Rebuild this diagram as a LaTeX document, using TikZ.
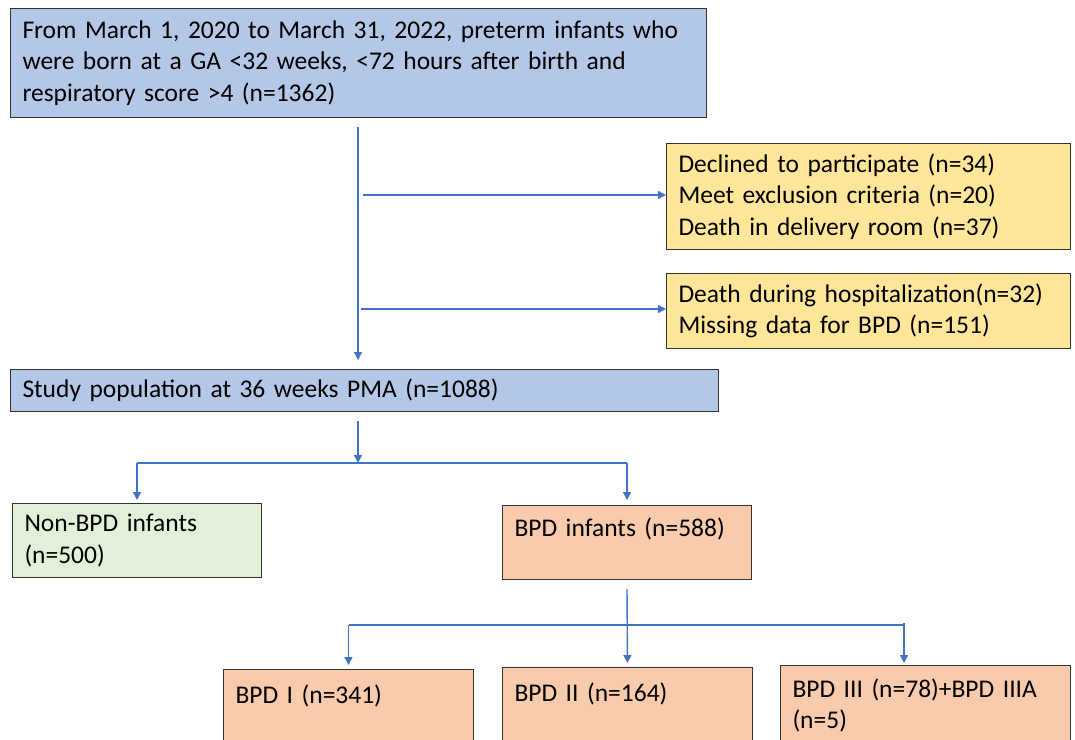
\documentclass[tikz,border=0pt]{standalone}
\usepackage{fontspec}
\setmainfont{Carlito}
\usetikzlibrary{arrows.meta,positioning}
\definecolor{fillblue}{HTML}{B4C7E7}
\definecolor{fillyellow}{HTML}{FFE699}
\definecolor{fillgreen}{HTML}{E2F0D9}
\definecolor{fillorange}{HTML}{F8CBAD}
\definecolor{linkblue}{HTML}{4472C4}
\begin{document}
\begin{tikzpicture}[
    x=1pt, y=-1pt,
    every node/.style={font=\fontsize{25.5}{31.5}\selectfont, inner sep=0pt},
    box/.style={draw=black!80, line width=1pt, anchor=north west, align=left, inner xsep=12pt},
    line/.style={draw=linkblue, line width=1.4pt},
    link/.style={line, -{Triangle[length=8pt,width=8pt]}}
]
\useasboundingbox (0,0) rectangle (1075,739);

\node[box, fill=fillblue, text width=672pt, minimum height=109pt] (screen) at (10,8)
    {From March 1, 2020 to March 31, 2022, preterm infants who\\
     were born at a GA <32 weeks, <72 hours after birth and\\
     respiratory score >4 (n=1362)};
\node[box, fill=fillyellow, text width=380pt, minimum height=106pt] (excl) at (666,143)
    {Declined to participate (n=34)\\
     Meet exclusion criteria (n=20)\\
     Death in delivery room (n=37)};
\node[box, fill=fillyellow, text width=380pt, minimum height=75pt] (lost) at (666,273)
    {Death during hospitalization(n=32)\\
     Missing data for BPD (n=151)};
\node[box, fill=fillblue, text width=684pt, minimum height=42pt] (study) at (10,369)
    {Study population at 36 weeks PMA (n=1088)};
\node[box, fill=fillgreen, text width=225pt, minimum height=74pt] (nonbpd) at (12,503)
    {Non-BPD infants\\(n=500)};
\node[box, fill=fillorange, text width=225pt, minimum height=74pt] (bpd) at (502,505)
    {BPD infants (n=588)\\ \mbox{}};
\node[box, fill=fillorange, text width=226pt, minimum height=80pt] (bpdone) at (223,669)
    {BPD I (n=341)\\ \mbox{}};
\node[box, fill=fillorange, text width=226pt, minimum height=80pt] (bpdtwo) at (502,667)
    {BPD II (n=164)\\ \mbox{}};
\node[box, fill=fillorange, text width=266pt, minimum height=80pt] (bpdthree) at (780,665)
    {BPD III (n=78)+BPD IIIA\\(n=5)};

% trunk and exclusions
\coordinate (trunk) at (358,127);
\coordinate (outone) at (363,195);
\coordinate (outtwo) at (361,309);
\draw[link, shorten >=9pt] (trunk) -- (trunk |- study.north);
\draw[link] (outone) -- (outone -| excl.west);
\draw[link] (outtwo) -- (outtwo -| lost.west);

% first split
\coordinate (forkone) at (358,463);
\draw[link] ([yshift=-9pt]study.south -| forkone) -- (forkone);
\draw[line] (nonbpd.north |- forkone) -- (bpd.north |- forkone);
\draw[link, shorten >=3pt] (nonbpd.north |- forkone) -- (nonbpd.north);
\draw[link, shorten >=5pt] (bpd.north |- forkone) -- (bpd.north);

% second split
\coordinate (forktwo) at (627,625);
\coordinate (forkright) at (904,625);
\draw[link, shorten >=4pt] ([yshift=-9pt]bpd.south) -- (bpdtwo.north);
\draw[line] (bpdone.north |- forktwo) -- (forkright);
\draw[link, shorten >=4pt] (bpdone.north |- forktwo) -- (bpdone.north);
\draw[link, shorten >=2pt] ([yshift=2pt]forkright) -- (forkright |- bpdthree.north);
\end{tikzpicture}
\end{document}
